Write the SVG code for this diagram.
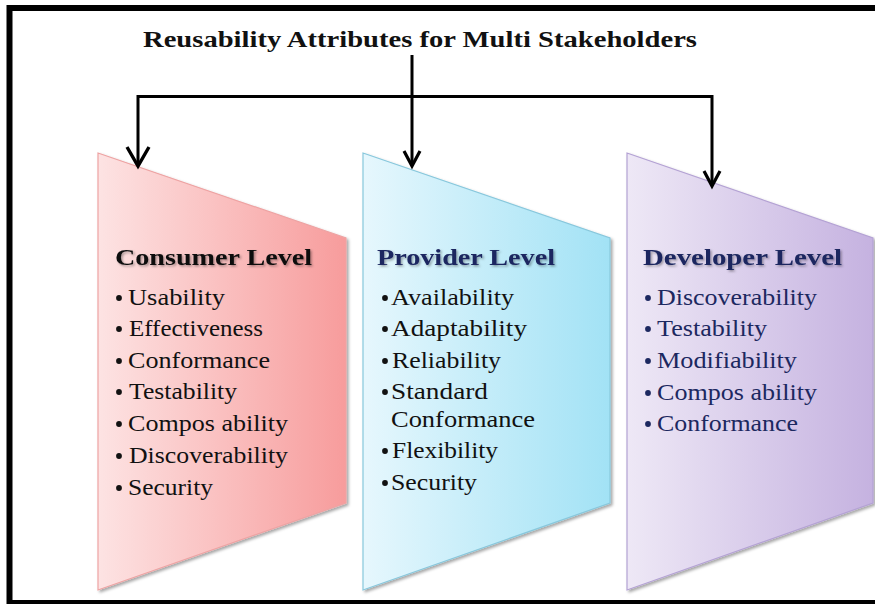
<svg xmlns="http://www.w3.org/2000/svg" width="875" height="604" viewBox="0 0 875 604">
<style>
  .title { font-family: "Liberation Serif", "Times New Roman", serif; font-weight: bold; font-size: 23px; fill: #111; }
  .head { font-family: "Liberation Serif", "Times New Roman", serif; font-weight: bold; font-size: 24px; }
  .item { font-family: "Liberation Serif", "Times New Roman", serif; font-size: 22.5px; }
  .black { fill: #111; }
  .navy { fill: #1c2860; }
  .conn { fill: none; stroke: #000; stroke-width: 3; stroke-linejoin: miter; }
</style>
<defs>
  <linearGradient id="gRed" x1="0" y1="0" x2="1" y2="0">
    <stop offset="0" stop-color="#fde3e3"/>
    <stop offset="1" stop-color="#f79c9c"/>
  </linearGradient>
  <linearGradient id="gBlue" x1="0" y1="0" x2="1" y2="0">
    <stop offset="0" stop-color="#e6f7fd"/>
    <stop offset="1" stop-color="#a2e2f5"/>
  </linearGradient>
  <linearGradient id="gPurple" x1="0" y1="0" x2="1" y2="0">
    <stop offset="0" stop-color="#eee8f6"/>
    <stop offset="1" stop-color="#c5b2e0"/>
  </linearGradient>
  <filter id="shadow" x="-10%" y="-10%" width="130%" height="130%">
    <feDropShadow dx="2" dy="2" stdDeviation="1.5" flood-color="#000" flood-opacity="0.35"/>
  </filter>
  <filter id="tshadow" x="-10%" y="-30%" width="130%" height="160%">
    <feDropShadow dx="1.5" dy="1.5" stdDeviation="1" flood-color="#000" flood-opacity="0.35"/>
  </filter>
  <marker id="arrowBig" viewBox="-22 -13 26 26" refX="0" refY="0" markerWidth="26" markerHeight="26" markerUnits="userSpaceOnUse" orient="auto" overflow="visible">
    <path d="M-19,-11 L0,0 L-19,11" fill="none" stroke="#000" stroke-width="3.4"/>
  </marker>
  <marker id="arrow" viewBox="-18 -10 22 20" refX="0" refY="0" markerWidth="22" markerHeight="20" markerUnits="userSpaceOnUse" orient="auto" overflow="visible">
    <path d="M-15,-8 L0,0 L-15,8" fill="none" stroke="#000" stroke-width="3.2"/>
  </marker>
</defs>

<rect x="9.5" y="8" width="880" height="595" fill="#fff" stroke="#000" stroke-width="6"/>

<g id="title">
  <text class="title" x="143" y="47" textLength="554" lengthAdjust="spacingAndGlyphs">Reusability Attributes for Multi Stakeholders</text>
</g>

<g id="consumer">
  <polygon points="98,153 346,238 346,503 98,590" fill="url(#gRed)" stroke="#eea3a3" stroke-width="1.2" filter="url(#shadow)"/>
  <text class="head black" x="115" y="265" textLength="197" lengthAdjust="spacingAndGlyphs" filter="url(#tshadow)">Consumer Level</text>
  <g class="black">
    <circle cx="119" cy="298" r="2.9"/>
    <circle cx="119" cy="329" r="2.9"/>
    <circle cx="119" cy="361" r="2.9"/>
    <circle cx="119" cy="392" r="2.9"/>
    <circle cx="119" cy="424" r="2.9"/>
    <circle cx="119" cy="456" r="2.9"/>
    <circle cx="119" cy="488" r="2.9"/>
  </g>
  <text class="item black" x="128" y="305" textLength="97" lengthAdjust="spacingAndGlyphs">Usability</text>
  <text class="item black" x="129" y="336" textLength="134" lengthAdjust="spacingAndGlyphs">Effectiveness</text>
  <text class="item black" x="128" y="368" textLength="142" lengthAdjust="spacingAndGlyphs">Conformance</text>
  <text class="item black" x="129" y="399" textLength="108" lengthAdjust="spacingAndGlyphs">Testability</text>
  <text class="item black" x="128" y="431" textLength="160" lengthAdjust="spacingAndGlyphs">Compos ability</text>
  <text class="item black" x="129" y="463" textLength="159" lengthAdjust="spacingAndGlyphs">Discoverability</text>
  <text class="item black" x="128" y="495" textLength="85" lengthAdjust="spacingAndGlyphs">Security</text>
</g>

<g id="provider">
  <polygon points="363,153 610,238 610,503 363,590" fill="url(#gBlue)" stroke="#88c8dd" stroke-width="1.2" filter="url(#shadow)"/>
  <text class="head navy" x="377" y="265" textLength="178" lengthAdjust="spacingAndGlyphs" filter="url(#tshadow)">Provider Level</text>
  <g class="black">
    <circle cx="385" cy="298" r="2.9"/>
    <circle cx="385" cy="329" r="2.9"/>
    <circle cx="385" cy="361" r="2.9"/>
    <circle cx="385" cy="392" r="2.9"/>
    <circle cx="385" cy="451" r="2.9"/>
    <circle cx="385" cy="483" r="2.9"/>
  </g>
  <text class="item black" x="391" y="305" textLength="123" lengthAdjust="spacingAndGlyphs">Availability</text>
  <text class="item black" x="391" y="336" textLength="136" lengthAdjust="spacingAndGlyphs">Adaptability</text>
  <text class="item black" x="392" y="368" textLength="109" lengthAdjust="spacingAndGlyphs">Reliability</text>
  <text class="item black" x="391" y="399" textLength="97" lengthAdjust="spacingAndGlyphs">Standard</text>
  <text class="item black" x="391" y="427" textLength="144" lengthAdjust="spacingAndGlyphs">Conformance</text>
  <text class="item black" x="392" y="458" textLength="106" lengthAdjust="spacingAndGlyphs">Flexibility</text>
  <text class="item black" x="391" y="490" textLength="86" lengthAdjust="spacingAndGlyphs">Security</text>
</g>

<g id="developer">
  <polygon points="627,153 873,238 873,503 627,590" fill="url(#gPurple)" stroke="#b4a2d4" stroke-width="1.2" filter="url(#shadow)"/>
  <text class="head navy" x="643" y="265" textLength="199" lengthAdjust="spacingAndGlyphs" filter="url(#tshadow)">Developer Level</text>
  <g class="navy">
    <circle cx="648" cy="298" r="2.9"/>
    <circle cx="648" cy="329" r="2.9"/>
    <circle cx="648" cy="361" r="2.9"/>
    <circle cx="648" cy="393" r="2.9"/>
    <circle cx="648" cy="424" r="2.9"/>
  </g>
  <text class="item navy" x="657" y="305" textLength="160" lengthAdjust="spacingAndGlyphs">Discoverability</text>
  <text class="item navy" x="657" y="336" textLength="110" lengthAdjust="spacingAndGlyphs">Testability</text>
  <text class="item navy" x="657" y="368" textLength="140" lengthAdjust="spacingAndGlyphs">Modifiability</text>
  <text class="item navy" x="657" y="400" textLength="160" lengthAdjust="spacingAndGlyphs">Compos ability</text>
  <text class="item navy" x="657" y="431" textLength="141" lengthAdjust="spacingAndGlyphs">Conformance</text>
</g>

<g id="connectors">
  <path class="conn" d="M412,55 V166" marker-end="url(#arrow)"/>
  <path class="conn" d="M412,96.5 H138 V166" marker-end="url(#arrowBig)"/>
  <path class="conn" d="M412,96.5 H712 V186" marker-end="url(#arrow)"/>
</g>
</svg>
